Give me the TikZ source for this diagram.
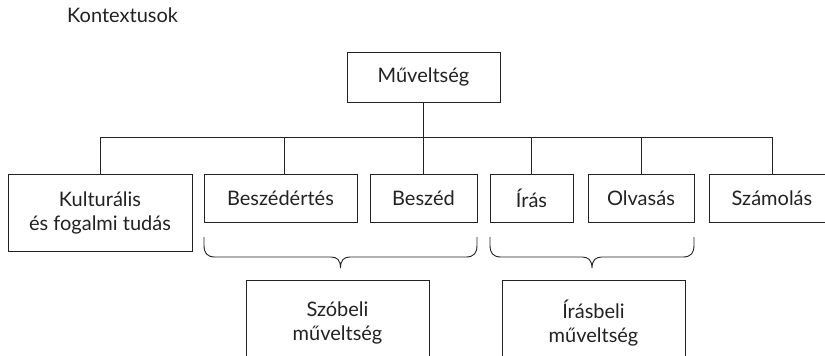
\documentclass[tikz,border=0pt]{standalone}
\usepackage{fontspec}
\setmainfont{Lato}
\definecolor{ink}{HTML}{222222}
\begin{document}
\begin{tikzpicture}[x=1pt,y=-1pt,
  box/.style={draw=ink, line width=0.9pt, text=ink, align=center, inner sep=0pt,
    font=\fontsize{20}{24}\selectfont},
  wire/.style={draw=ink, line width=0.9pt},
  brc/.style={draw=ink, line width=0.9pt, line join=round}]
\useasboundingbox (0,0) rectangle (825,356);
\clip (0,0) rectangle (825,356);
\node[anchor=base west, text=ink, font=\fontsize{20}{24}\selectfont, inner sep=0pt] (ctx) at (67,23) {Kontextusok};
\node[box, minimum width=153, minimum height=50] (mu) at (423.5,77) {Műveltség};
\node[box, minimum width=184, minimum height=77] (kult) at (100,212.5) {Kulturális\\és fogalmi tudás};
\node[box, minimum width=153, minimum height=48] (bert) at (280.5,198) {Beszédértés};
\node[box, minimum width=107, minimum height=48] (besz) at (423.5,198) {Beszéd};
\node[box, minimum width=83, minimum height=48] (iras) at (531.5,198) {Írás};
\node[box, minimum width=106, minimum height=48] (olv) at (641,198) {Olvasás};
\node[box, minimum width=126, minimum height=48] (szam) at (772,198) {Számolás};
\node[box, minimum width=183, minimum height=86] (szob) at (337.5,323) {Szóbeli\\műveltség};
\node[box, minimum width=183, minimum height=86] (irb) at (593.5,323) {Írásbeli\\műveltség};
\coordinate (bar) at (0,137);
\draw[wire] (mu.south) -- (mu.south |- bar);
\draw[wire] (kult.north) |- (szam.north |- bar) -- (szam.north);
\draw[wire] ([xshift=3.5pt]bert.north |- bar) -- ([xshift=3.5pt]bert.north);
\draw[wire] (besz.north |- bar) -- (besz.north);
\draw[wire] (iras.north |- bar) -- (iras.north);
\draw[wire] (olv.north |- bar) -- (olv.north);
% braces
\draw[brc] (204,237) -- (204,245) .. controls (204,253) and (207,257) .. (215,257)
  -- (331,257) .. controls (337,257) and (340.5,260) .. (340.5,268)
  .. controls (340.5,260) and (344,257) .. (350,257)
  -- (466,257) .. controls (474,257) and (477,253) .. (477,245) -- (477,237);
\draw[brc] (490,237) -- (490,245) .. controls (490,253) and (493,257) .. (501,257)
  -- (582,257) .. controls (588,257) and (592,260) .. (592,268)
  .. controls (592,260) and (596,257) .. (602,257)
  -- (683,257) .. controls (691,257) and (694,253) .. (694,245) -- (694,237);
\end{tikzpicture}
\end{document}
